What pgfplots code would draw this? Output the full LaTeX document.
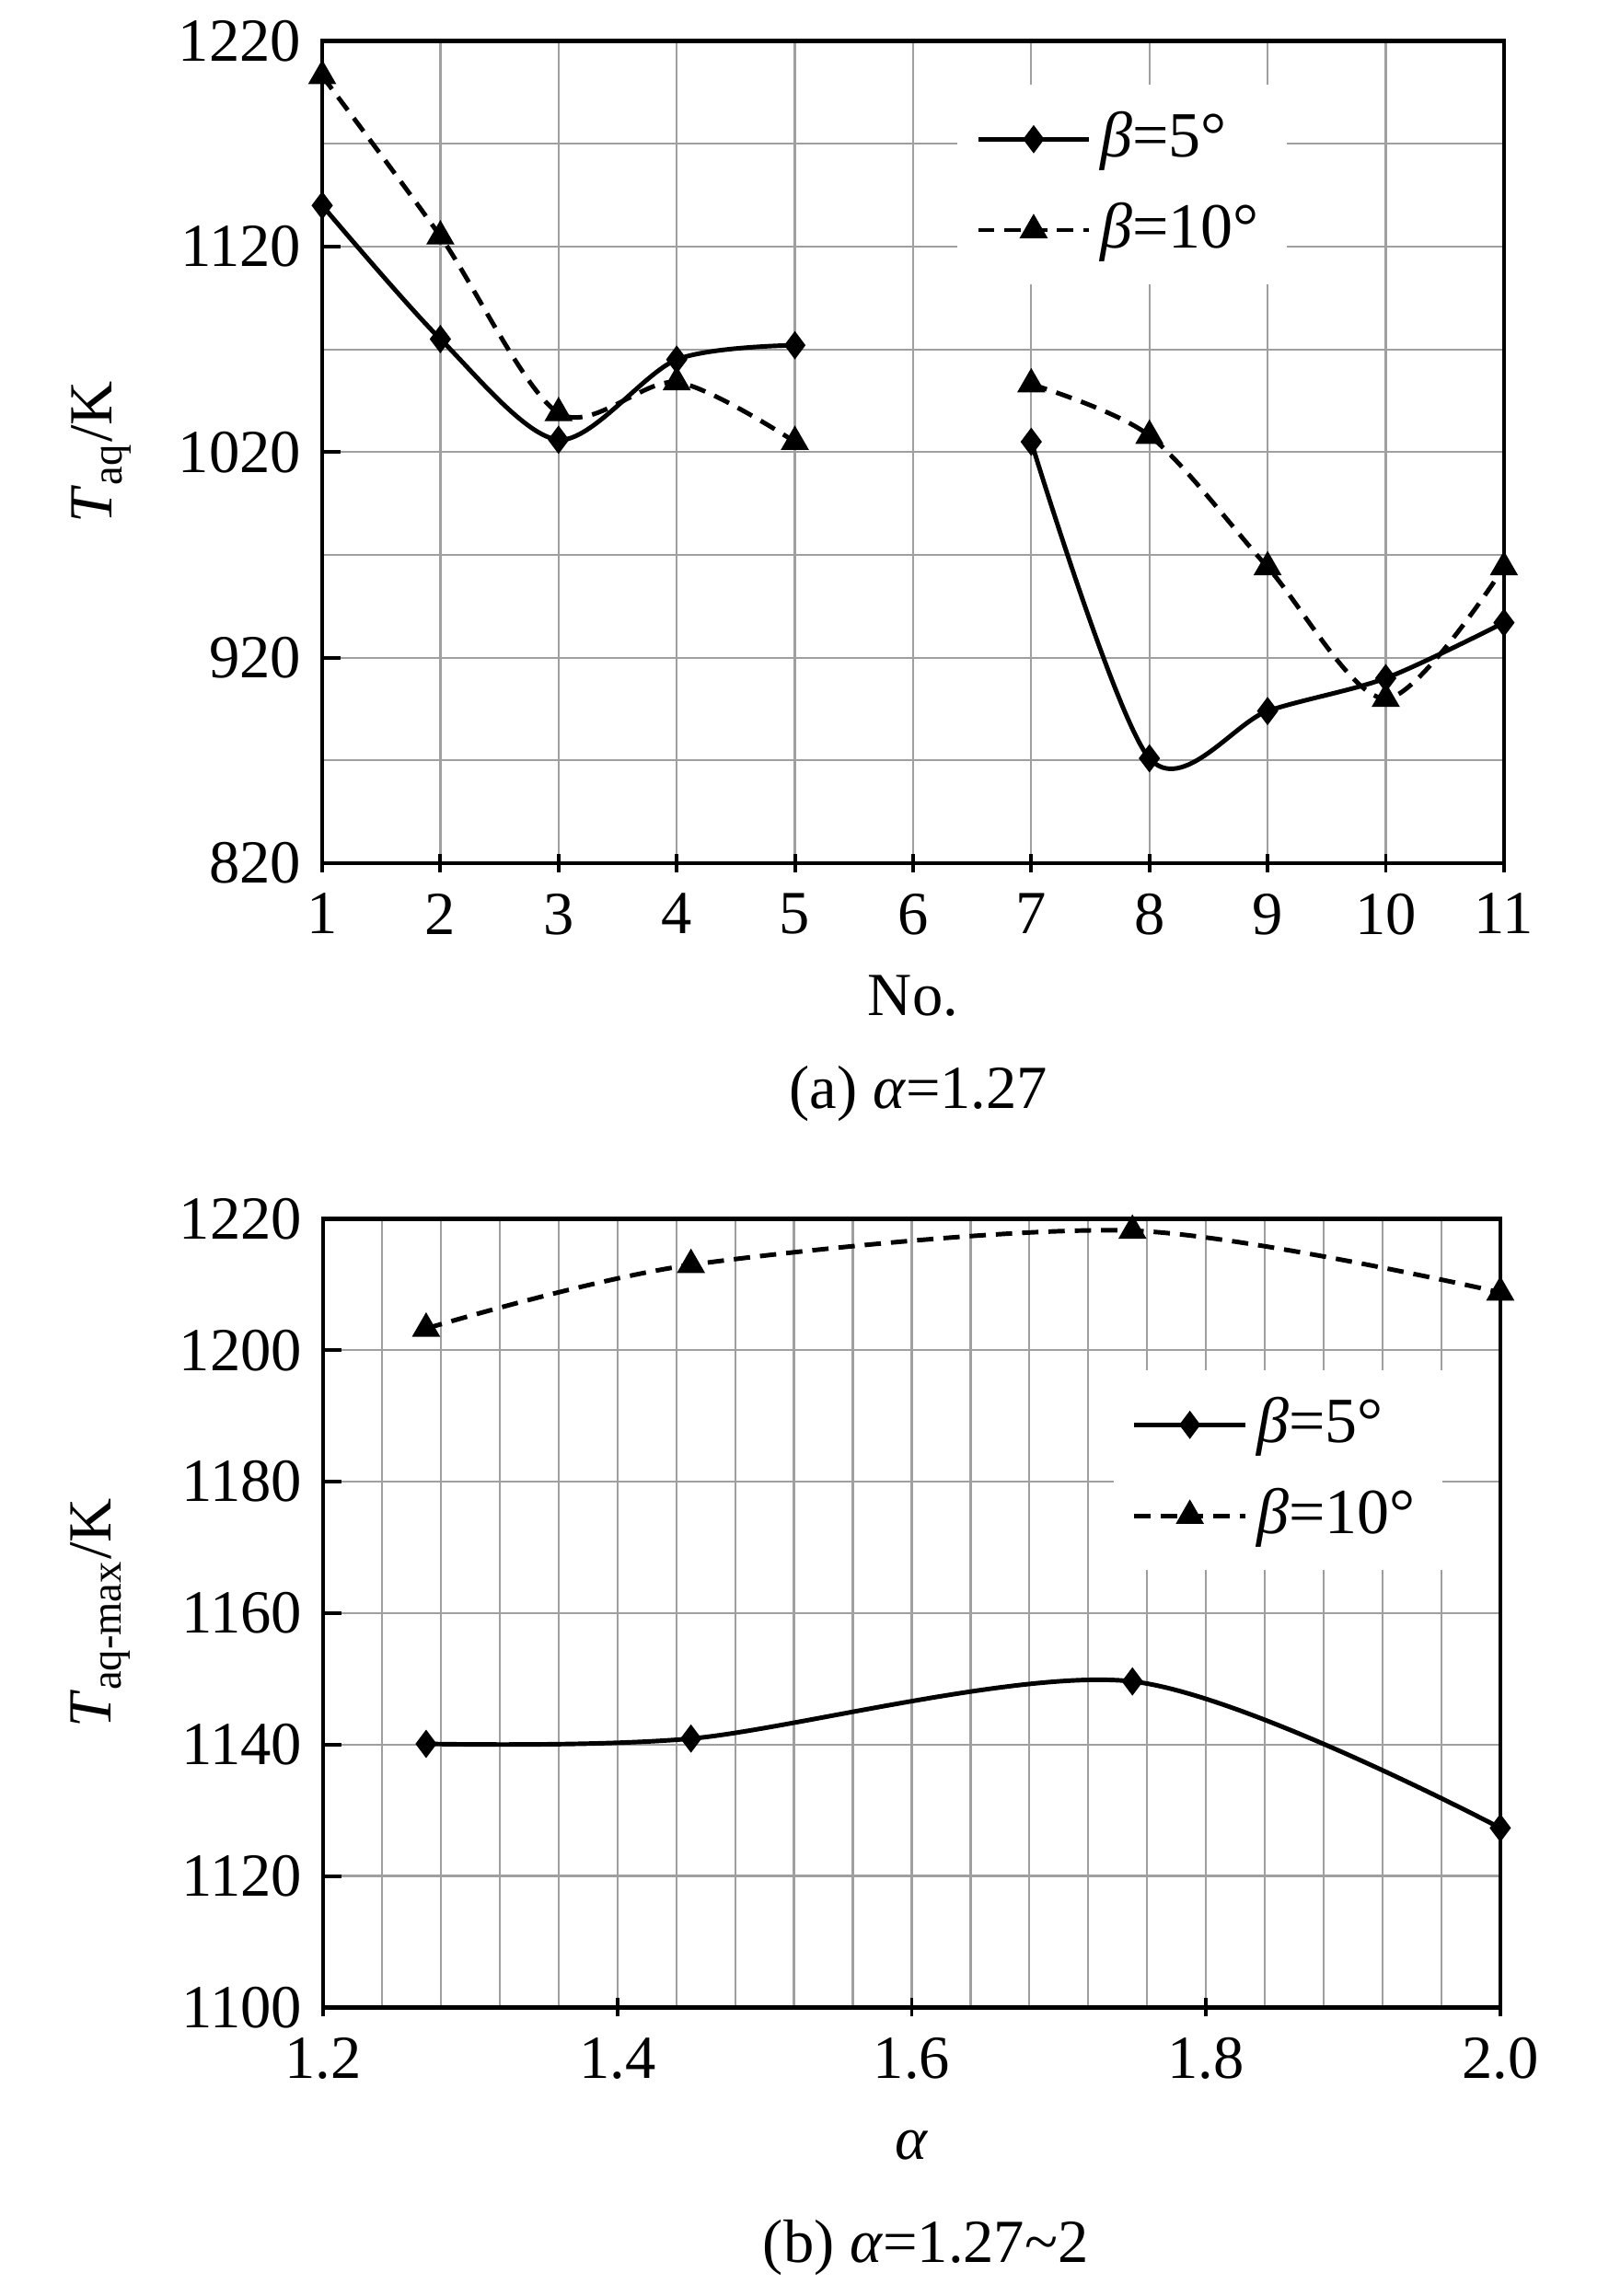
\documentclass[border=0pt]{standalone}
\usepackage{fontspec}
\setmainfont{Liberation Serif}
\usepackage{pgfplots}
\pgfplotsset{compat=1.18}
\pgfplotsset{
  common/.style={
    scale only axis, anchor=south west,
    axis line style={line width=0.9pt},
    grid=both,
    major grid style={gray!75, line width=0.45pt},
    minor grid style={gray!75, line width=0.45pt},
    tick style={black, line width=0.8pt},
    major tick length=4pt, minor tick length=0pt,
    tick pos=left,
    xtick align=center, ytick align=inside,
    /pgf/number format/assume math mode=true,
    /pgf/number format/set thousands separator={},
    tick label style={font=\fontsize{13.5}{15}\selectfont},
    label style={font=\fontsize{13.5}{15}\selectfont},
    legend style={draw=none, fill=white, font=\fontsize{14.2}{16}\selectfont,
      anchor=north west, row sep=4pt, inner xsep=4pt, inner ysep=4pt},
    legend cell align=left,
    legend image code/.code={\draw[mark repeat=2,mark phase=2,##1] plot coordinates {(0cm,0cm) (0.43cm,0cm) (0.86cm,0cm)};},
  },
  s5/.style={black, line width=1pt, smooth, mark=diamond*, mark size=2.3pt, mark options={solid}},
  s10/.style={black, line width=1pt, dash pattern=on 3.6pt off 2.2pt, smooth, mark=triangle*, mark size=2.6pt, mark options={solid}},
}
\begin{document}
\fontsize{13.5}{15}\selectfont
\begin{tikzpicture}
\path (0pt,0pt) rectangle (354.4pt,499pt);
\begin{axis}[common, at={(71pt,311.8pt)}, width=260.4pt, height=181.2pt,
  xmin=1, xmax=11, ymin=820, ymax=1220,
  xtick={1,...,11}, ytick={820,920,1020,1120,1220}, minor ytick={870,970,1070,1170},
  xlabel={No.}, ylabel={\textit{T}\textsubscript{aq}/K},
  xlabel style={at={(axis description cs:0.5,-0.161)}, anchor=center},
  ylabel style={at={(axis description cs:-0.187,0.5)}, anchor=center},
  legend style={at={(0.537,0.948)}}]
\addplot[s5] coordinates {(1,1140) (2,1075) (3,1026) (4,1065) (5,1072)};
\addlegendentry{\textit{β}=5°}
\addplot[s10] coordinates {(1,1203) (2,1125) (3,1039) (4,1054) (5,1025)};
\addlegendentry{\textit{β}=10°}
\addplot[s5, forget plot] coordinates {(7,1025) (8,871) (9,894) (10,910) (11,937)};
\addplot[s10, forget plot] coordinates {(7,1053) (8,1028) (9,964) (10,900) (11,964)};
\end{axis}
\node at (202.4pt,261pt) {(a) \textit{α}=1.27};
\begin{axis}[common, at={(71.2pt,59.6pt)}, width=259.4pt, height=173.8pt,
  xmin=1.2, xmax=2.0, ymin=1100, ymax=1220,
  xtick={1.2,1.4,1.6,1.8,2.0}, minor x tick num=4,
  ytick={1100,1120,...,1220},
  xticklabel style={/pgf/number format/.cd, fixed, fixed zerofill, precision=1},
  xlabel={\textit{α}}, ylabel={\textit{T}\textsubscript{aq-max}/K},
  xlabel style={at={(axis description cs:0.5,-0.175)}, anchor=center},
  ylabel style={at={(axis description cs:-0.189,0.5)}, anchor=center},
  legend style={at={(0.671,0.809)}}]
\addplot[s5] coordinates {(1.27,1140.1) (1.45,1140.9) (1.75,1149.6) (2.0,1127.3)};
\addlegendentry{\textit{β}=5°}
\addplot[s10] coordinates {(1.27,1203.3) (1.45,1213) (1.75,1218.2) (2.0,1208.8)};
\addlegendentry{\textit{β}=10°}
\end{axis}
\node at (204pt,6.6pt) {(b) \textit{α}=1.27\textasciitilde 2};
\end{tikzpicture}
\end{document}
